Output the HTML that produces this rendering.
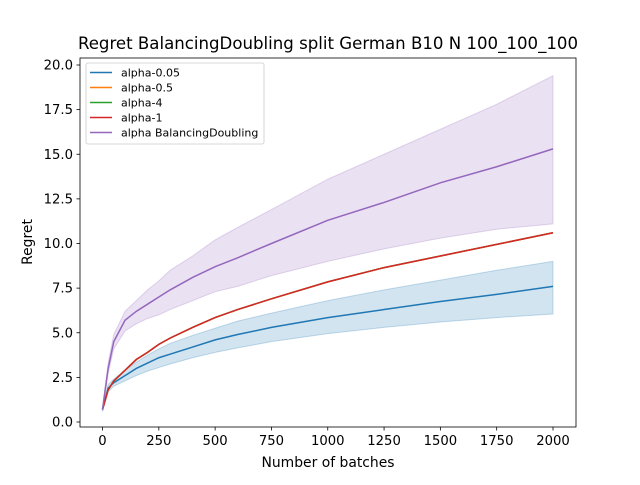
<!DOCTYPE html>
<html><head><meta charset="utf-8">
<style>
body{margin:0;background:#fff;font-family:"Liberation Sans","DejaVu Sans",sans-serif;}
svg text{font-family:"DejaVu Sans","Liberation Sans",sans-serif;}
</style></head>
<body>
<svg id="chart" width="640" height="480" xmlns="http://www.w3.org/2000/svg">
<rect width="640" height="480" fill="#fff"/>
<text x="328" y="49" font-size="16.6" text-anchor="middle">Regret BalancingDoubling split German B10 N 100_100_100</text>
<g id="plot"></g>
<rect x="80" y="58" width="496" height="369" fill="none" stroke="#000" stroke-width="0.8"/>
<g id="axes"></g>
<text x="328" y="467" font-size="13.9" text-anchor="middle">Number of batches</text>
<text transform="translate(32,242) rotate(-90)" font-size="13.9" text-anchor="middle">Regret</text>
<g id="legend"></g>
</svg>
<script>
const xs = [0,25,50,100,150,200,250,300,400,500,600,750,1000,1250,1500,1750,2000];
const blueMean = [0.7,1.9,2.2,2.6,3.0,3.3,3.6,3.8,4.2,4.6,4.9,5.3,5.85,6.3,6.75,7.15,7.6];
const blueLow = [0.6,1.7,2.0,2.3,2.6,2.85,3.05,3.25,3.6,3.9,4.15,4.5,4.95,5.3,5.6,5.85,6.05];
const blueHigh = [0.8,2.1,2.4,2.9,3.35,3.75,4.1,4.4,4.85,5.25,5.65,6.1,6.8,7.4,7.95,8.5,9.0];
const redMean = [0.7,1.8,2.3,2.9,3.5,3.9,4.35,4.7,5.3,5.85,6.3,6.9,7.85,8.65,9.3,9.95,10.6];
const purpleMean = [0.7,3.0,4.5,5.7,6.2,6.6,7.0,7.4,8.1,8.7,9.2,10.0,11.3,12.3,13.4,14.3,15.3];
const purpleLow = [0.6,2.7,4.1,5.1,5.5,5.8,6.0,6.3,6.8,7.3,7.6,8.2,9.0,9.7,10.3,10.8,11.1];
const purpleHigh = [0.8,3.3,4.9,6.2,6.8,7.4,7.9,8.5,9.3,10.2,10.9,11.9,13.6,15.0,16.4,17.8,19.4];
const xTicks = [0,250,500,750,1000,1250,1500,1750,2000];
const yTicks = [0,2.5,5,7.5,10,12.5,15,17.5,20];
const legendLabels = ["alpha-0.05","alpha-0.5","alpha-4","alpha-1","alpha BalancingDoubling"];
const legendColors = ["#1f77b4","#ff7f0e","#2ca02c","#d62728","#9467bd"];

const NS="http://www.w3.org/2000/svg";
const X=v=>102.5+v*(553-102.5)/2000;
const Y=v=>422-v*(422-65)/20;
function mk(tag,attrs,parent){const e=document.createElementNS(NS,tag);for(const k in attrs)e.setAttribute(k,attrs[k]);parent.appendChild(e);return e;}
const plot=document.getElementById('plot'), axes=document.getElementById('axes'), leg=document.getElementById('legend');
function band(lo,hi,color,name){
  let d="M"+xs.map((x,i)=>X(x)+","+Y(hi[i])).join("L");
  for(let i=xs.length-1;i>=0;i--) d+="L"+X(xs[i])+","+Y(lo[i]);
  const p=mk('path',{d:d+"Z",fill:color,'fill-opacity':0.2,stroke:color,'stroke-opacity':0.25},plot);
  
  
}
function line(vals,color,name){
  const p=mk('path',{d:"M"+xs.map((x,i)=>X(x)+","+Y(vals[i])).join("L"),fill:'none',stroke:color,'stroke-width':1.5},plot);
  
  
}
band(blueLow,blueHigh,"#1f77b4","band-alpha-0.05");
band(purpleLow,purpleHigh,"#9467bd","band-balancing-doubling");
line(blueMean,"#1f77b4","line-alpha-0.05");
line(redMean,"#ff7f0e","line-alpha-0.5");
line(redMean,"#2ca02c","line-alpha-4");
line(redMean,"#d62728","line-alpha-1");
line(purpleMean,"#9467bd","line-balancing-doubling");
xTicks.forEach(t=>{
  const l=mk('line',{x1:X(t),x2:X(t),y1:427,y2:430.5,stroke:'#000','stroke-width':0.8},axes);
  
  
  const tx=mk('text',{x:X(t),y:445,'font-size':13.2,'text-anchor':'middle'},axes);tx.textContent=t;
  
  
});
yTicks.forEach(t=>{
  const l=mk('line',{x1:76.5,x2:80,y1:Y(t),y2:Y(t),stroke:'#000','stroke-width':0.8},axes);
  
  
  const tx=mk('text',{x:73,y:Y(t)+4.5,'font-size':13.2,'text-anchor':'end'},axes);tx.textContent=t.toFixed(1);
  
  
});
const box=mk('rect',{x:86,y:63,width:178,height:81,rx:2,fill:'#fff','fill-opacity':0.8,stroke:'#ccc','stroke-width':0.8},leg);


legendLabels.forEach((lab,i)=>{
  const y=72.5+i*15;
  const l=mk('line',{x1:90,x2:112,y1:y,y2:y,stroke:legendColors[i],'stroke-width':1.5},leg);
  
  
  const t=mk('text',{x:121,y:y+3.8,'font-size':11},leg);t.textContent=lab;
  
  
});
</script>
</body></html>
